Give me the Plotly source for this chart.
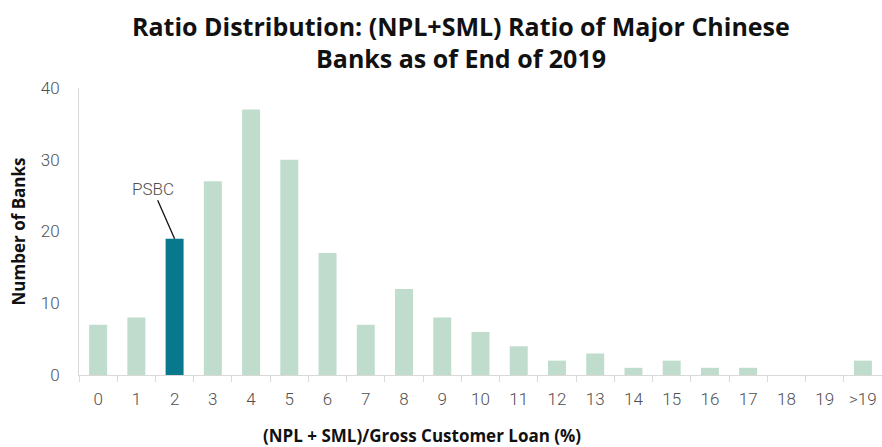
import plotly.graph_objects as go

categories = ["0", "1", "2", "3", "4", "5", "6", "7", "8", "9", "10",
              "11", "12", "13", "14", "15", "16", "17", "18", "19", ">19"]
banks = [7, 8, 19, 27, 37, 30, 17, 7, 12, 8, 6, 4, 2, 3, 1, 2, 1, 1, 0, 0, 2]
highlight = "2"
highlight_label = "PSBC"
title_lines = ["Ratio Distribution: (NPL+SML) Ratio of Major Chinese",
               "Banks as of End of 2019"]
x_title = "(NPL + SML)/Gross Customer Loan (%)"
y_title = "Number of Banks"

light = "#bfdccd"
dark = "#08788c"
colors = [dark if c == highlight else light for c in categories]

TICKFONT = dict(family="Roboto", size=17, color="#505050", weight=300)
BOLD = "Open Sans"

fig = go.Figure(go.Bar(x=categories, y=banks, marker=dict(color=colors, line=dict(width=0))))

fig.update_layout(
    width=882, height=447,
    margin=dict(l=79, r=0, t=88, b=72),
    paper_bgcolor="white", plot_bgcolor="white",
    bargap=0.53,
    showlegend=False,
    font=dict(family="Roboto", color="#444"),
)

fig.update_xaxes(
    type="category", tickangle=0,
    showline=True, linecolor="#d9d9d9", linewidth=1,
    ticks="outside", tickson="boundaries", ticklen=6, tickcolor="#d9d9d9",
    tickfont=TICKFONT,
    ticklabelstandoff=9,
    showgrid=False, zeroline=False,
)
fig.update_yaxes(
    range=[0, 40], tickvals=[0, 10, 20, 30, 40],
    showline=True, linecolor="#d9d9d9", linewidth=1,
    ticks="", showgrid=False, zeroline=False,
    tickfont=TICKFONT,
    ticklabelstandoff=15,
    title=dict(text=y_title, font=dict(family=BOLD, size=17, color="#111", weight="bold"), standoff=10),
)

# title lines
for txt, yy in zip(title_lines, [1.216, 1.1045]):
    fig.add_annotation(
        text=txt, xref="paper", yref="paper", x=0.476, y=yy,
        xanchor="center", yanchor="middle", showarrow=False,
        font=dict(family=BOLD, size=25, color="#111", weight="bold"),
    )

fig.add_annotation(
    text=x_title, xref="paper", yref="paper",
    x=(422 - 79) / 803, y=-0.2125, xanchor="center", yanchor="middle", showarrow=False,
    font=dict(family=BOLD, size=17, color="#111", weight="bold"),
)

fig.add_annotation(
    x=highlight, y=banks[categories.index(highlight)], text=highlight_label,
    showarrow=True, arrowhead=0, arrowwidth=1.3, arrowcolor="#111",
    ax=-22, ay=-50,
    font=dict(family="Roboto", size=17, color="#505050", weight=300),
)

fig.write_html("out.html")
